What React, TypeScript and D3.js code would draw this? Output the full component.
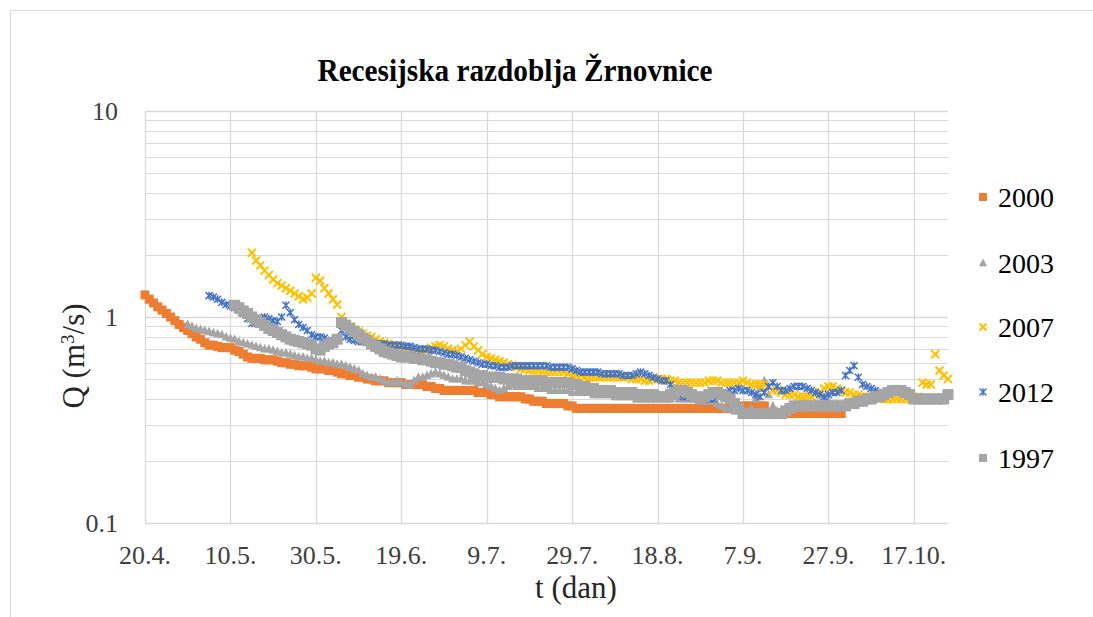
import React from 'react';
import * as d3 from 'd3';

const W = 1093;
const H = 617;

const titleText = 'Recesijska razdoblja Žrnovnice';
const xAxisTitle = 't (dan)';
const tickDays = [0, 20, 40, 60, 80, 100, 120, 140, 160, 180];
const tickLabels = ['20.4.', '10.5.', '30.5.', '19.6.', '9.7.', '29.7.', '18.8.', '7.9.', '27.9.', '17.10.'];
const yTicks = [0.1, 1, 10];
const yTickLabels = ['0.1', '1', '10'];
const yMinor = [0.2, 0.3, 0.4, 0.5, 0.6, 0.7, 0.8, 0.9, 2, 3, 4, 5, 6, 7, 8, 9];
const seriesNames = ['2000', '2003', '2007', '2012', '1997'];

const start2000 = 0;
const q2000 = [
  1.28, 1.22, 1.17, 1.12, 1.08, 1.04, 1.0, 0.96, 0.92, 0.89,
  0.86, 0.83, 0.8, 0.78, 0.75, 0.73, 0.73, 0.72, 0.71, 0.71,
  0.71, 0.69, 0.68, 0.66, 0.64, 0.63, 0.63, 0.63, 0.62, 0.62,
  0.62, 0.61, 0.6, 0.6, 0.59, 0.59, 0.58, 0.58, 0.58, 0.57,
  0.56, 0.56, 0.56, 0.55, 0.55, 0.54, 0.53, 0.53, 0.52, 0.52,
  0.51, 0.51, 0.5, 0.5, 0.49, 0.49, 0.49, 0.48, 0.48, 0.48,
  0.48, 0.47, 0.47, 0.47, 0.47, 0.47, 0.46, 0.46, 0.45, 0.45,
  0.44, 0.44, 0.44, 0.44, 0.44, 0.44, 0.44, 0.44, 0.43, 0.43,
  0.43, 0.42, 0.42, 0.41, 0.41, 0.41, 0.41, 0.41, 0.41, 0.4,
  0.4, 0.39, 0.39, 0.39, 0.38, 0.38, 0.38, 0.38, 0.38, 0.37,
  0.37, 0.36, 0.36, 0.36, 0.36, 0.36, 0.36, 0.36, 0.36, 0.36,
  0.36, 0.36, 0.36, 0.36, 0.36, 0.36, 0.36, 0.36, 0.36, 0.36,
  0.36, 0.36, 0.36, 0.36, 0.36, 0.36, 0.36, 0.36, 0.36, 0.36,
  0.36, 0.36, 0.36, 0.36, 0.36, 0.36, 0.36, 0.36, 0.36, 0.36,
  0.37, 0.37, 0.37, 0.37, 0.37, 0.37, 0.34, 0.34, 0.34, 0.34,
  0.34, 0.34, 0.34, 0.34, 0.34, 0.34, 0.34, 0.34, 0.34, 0.34,
  0.34, 0.34, 0.34, 0.34,
];

const start2003 = 10;
const q2003 = [
  0.92, 0.9, 0.88, 0.87, 0.86, 0.85, 0.84, 0.83, 0.82, 0.8,
  0.79, 0.78, 0.76, 0.75, 0.74, 0.73, 0.72, 0.71, 0.7, 0.7,
  0.69, 0.68, 0.67, 0.67, 0.66, 0.65, 0.64, 0.64, 0.63, 0.63,
  0.62, 0.61, 0.61, 0.6, 0.6, 0.59, 0.59, 0.58, 0.57, 0.56,
  0.55, 0.53, 0.52, 0.51, 0.51, 0.5, 0.49, 0.48, 0.48, 0.49,
  0.48, 0.47, 0.47, 0.49, 0.51, 0.51, 0.52, 0.53, 0.54, 0.53,
  0.52, 0.51, 0.5, 0.5, 0.5, 0.49, 0.49, 0.49, 0.48, 0.48,
  0.47, 0.46, 0.45, 0.44, 0.45, 0.46, 0.47, 0.46, 0.46, 0.46,
  0.46, 0.46, 0.45, 0.45, 0.45, 0.44, 0.44, 0.44, 0.44, 0.44,
  0.43, 0.43, 0.43, 0.43, 0.43, 0.42, 0.42, 0.42, 0.42, 0.42,
  0.41, 0.41, 0.41, 0.41, 0.41, 0.4, 0.4, 0.4, 0.4, 0.4,
  0.4, 0.41, 0.4, 0.4, 0.41, 0.4, 0.4, 0.4, 0.4, 0.4,
  0.4, 0.39, 0.39, 0.39, 0.38, 0.37, 0.36, 0.36, 0.35, 0.35,
  0.34, 0.34, 0.36, 0.4, 0.45, 0.49, 0.42, 0.37, 0.35, 0.35,
  0.36, 0.36, 0.36, 0.37, 0.37, 0.37, 0.37, 0.38, 0.38, 0.39,
  0.39,
];

const start2007 = 25;
const q2007 = [
  2.05, 1.88, 1.78, 1.68, 1.6,
  1.52, 1.46, 1.42, 1.38, 1.34, 1.3, 1.26, 1.22, 1.24, 1.3,
  1.55, 1.5, 1.38, 1.3, 1.22, 1.15, 1.0, 0.93, 0.9, 0.87,
  0.85, 0.83, 0.81, 0.8, 0.78, 0.76, 0.75, 0.74, 0.73, 0.72,
  0.71, 0.7, 0.69, 0.68, 0.67, 0.68, 0.69, 0.71, 0.72, 0.73,
  0.72, 0.7, 0.69, 0.68, 0.7, 0.73, 0.76, 0.72, 0.69, 0.66,
  0.64, 0.63, 0.62, 0.61, 0.6, 0.59, 0.58, 0.57, 0.56, 0.56,
  0.55, 0.55, 0.55, 0.54, 0.54, 0.54, 0.54, 0.54, 0.54, 0.53,
  0.52, 0.52, 0.52, 0.51, 0.51, 0.51, 0.51, 0.51, 0.51, 0.51,
  0.51, 0.51, 0.51, 0.51, 0.5, 0.5, 0.5, 0.49, 0.49, 0.5,
  0.5, 0.5, 0.5, 0.49, 0.49, 0.48, 0.48, 0.48, 0.48, 0.48,
  0.48, 0.48, 0.49, 0.49, 0.49, 0.48, 0.48, 0.48, 0.48, 0.48,
  0.49, 0.48, 0.47, 0.47, 0.47, 0.47, 0.46, 0.44, 0.44, 0.43,
  0.42, 0.42, 0.42, 0.41, 0.41, 0.41, 0.41, 0.42, 0.43, 0.45,
  0.46, 0.46, 0.45, 0.44, 0.43, 0.43, 0.42, 0.42, 0.41, 0.41,
  0.41, 0.41, 0.4, 0.4, 0.4, 0.4, 0.4, 0.4, 0.4, 0.4,
  0.41, 0.41, 0.48, 0.47, 0.47, 0.66, 0.55, 0.52, 0.5,
];

const start2012 = 15;
const q2012 = [
  1.27, 1.25, 1.22, 1.18, 1.15,
  1.13, 1.11, 1.08, 1.04, 0.98, 0.93, 0.95, 0.98, 1.0, 0.98,
  0.96, 0.95, 1.0, 1.14, 1.05, 0.97, 0.92, 0.89, 0.86, 0.82,
  0.8, 0.8, 0.79, 0.77, 0.76, 0.78, 0.86, 0.8, 0.78, 0.77,
  0.76, 0.76, 0.75, 0.75, 0.74, 0.74, 0.74, 0.73, 0.73, 0.73,
  0.73, 0.72, 0.72, 0.71, 0.7, 0.7, 0.7, 0.69, 0.69, 0.68,
  0.67, 0.66, 0.66, 0.65, 0.64, 0.63, 0.62, 0.61, 0.6, 0.59,
  0.59, 0.58, 0.58, 0.57, 0.57, 0.57, 0.58, 0.58, 0.58, 0.58,
  0.58, 0.58, 0.58, 0.58, 0.58, 0.57, 0.57, 0.57, 0.57, 0.57,
  0.56, 0.55, 0.54, 0.54, 0.54, 0.54, 0.54, 0.53, 0.53, 0.53,
  0.53, 0.53, 0.52, 0.52, 0.52, 0.53, 0.54, 0.53, 0.52, 0.51,
  0.5, 0.49, 0.49, 0.47, 0.45, 0.42, 0.41, 0.41, 0.41, 0.41,
  0.4, 0.4, 0.4, 0.4, 0.41, 0.42, 0.43, 0.44, 0.44, 0.45,
  0.44, 0.44, 0.43, 0.42, 0.41, 0.43, 0.46, 0.48, 0.46, 0.44,
  0.44, 0.45, 0.46, 0.46, 0.46, 0.45, 0.44, 0.43, 0.42, 0.41,
  0.42, 0.43, 0.43, 0.44, 0.52, 0.55, 0.58, 0.51, 0.47, 0.46,
  0.45, 0.44, 0.43, 0.43, 0.43,
];

const start1997 = 21;
const q1997 = [
  1.14, 1.11, 1.07, 1.04, 1.0, 0.97, 0.94, 0.91, 0.88,
  0.86, 0.84, 0.82, 0.8, 0.78, 0.77, 0.76, 0.75, 0.74, 0.73,
  0.7, 0.69, 0.72, 0.74, 0.75, 0.78, 0.94, 0.91, 0.88, 0.85,
  0.82, 0.79, 0.77, 0.74, 0.72, 0.7, 0.68, 0.67, 0.66, 0.65,
  0.64, 0.64, 0.64, 0.63, 0.63, 0.62, 0.62, 0.61, 0.6, 0.6,
  0.59, 0.59, 0.58, 0.57, 0.57, 0.55, 0.54, 0.53, 0.52, 0.52,
  0.51, 0.51, 0.51, 0.51, 0.5, 0.5, 0.5, 0.5, 0.49, 0.49,
  0.49, 0.49, 0.49, 0.49, 0.48, 0.48, 0.48, 0.48, 0.48, 0.48,
  0.47, 0.47, 0.46, 0.46, 0.45, 0.45, 0.44, 0.44, 0.44, 0.44,
  0.43, 0.43, 0.43, 0.43, 0.43, 0.42, 0.42, 0.42, 0.42, 0.42,
  0.41, 0.41, 0.41, 0.42, 0.43, 0.44, 0.44, 0.43, 0.42, 0.41,
  0.4, 0.41, 0.42, 0.43, 0.43, 0.42, 0.41, 0.4, 0.38, 0.36,
  0.34, 0.34, 0.34, 0.34, 0.34, 0.34, 0.34, 0.34, 0.34, 0.34,
  0.35, 0.36, 0.37, 0.37, 0.37, 0.37, 0.37, 0.37, 0.37, 0.37,
  0.37, 0.37, 0.37, 0.37, 0.37, 0.38, 0.38, 0.39, 0.39, 0.4,
  0.4, 0.41, 0.41, 0.42, 0.43, 0.44, 0.44, 0.44, 0.43, 0.42,
  0.4, 0.4, 0.4, 0.4, 0.4, 0.4, 0.4, 0.4, 0.42,
];

const ORANGE = '#ED7D31';
const GRAY = '#A5A5A5';
const GOLD = '#FFC000';
const BLUE = '#4472C4';
const GRID = '#D9D9D9';
const FONT = "'Liberation Serif', 'Times New Roman', serif";

const x = d3.scaleLinear().domain([0, 188]).range([145, 948]);
const y = d3.scaleLog().domain([0.1, 10]).range([523, 111]);

type Kind = 'square' | 'triangle' | 'x' | 'star' | 'bigsquare';

function Marker({ kind, cx, cy, s }: { kind: Kind; cx: number; cy: number; s: number }) {
  if (kind === 'square' || kind === 'bigsquare') {
    const fill = kind === 'square' ? ORANGE : GRAY;
    return <rect x={cx - s / 2} y={cy - s / 2} width={s} height={s} fill={fill} />;
  }
  if (kind === 'triangle') {
    const p = `M${cx},${cy - s * 0.55}L${cx + s / 2},${cy + s * 0.4}L${cx - s / 2},${cy + s * 0.4}Z`;
    return <path d={p} fill={GRAY} />;
  }
  const a = s / 2;
  if (kind === 'x') {
    const p = `M${cx - a},${cy - a}L${cx + a},${cy + a}M${cx - a},${cy + a}L${cx + a},${cy - a}`;
    return <path d={p} stroke={GOLD} strokeWidth={2} fill="none" />;
  }
  const p = `M${cx - a},${cy - a}L${cx + a},${cy + a}M${cx - a},${cy + a}L${cx + a},${cy - a}M${cx},${cy - a * 1.1}L${cx},${cy + a * 1.1}`;
  return <path d={p} stroke={BLUE} strokeWidth={1.5} fill="none" />;
}

const seriesDefs: { name: string; start: number; values: number[]; kind: Kind; size: number; legendSize: number }[] = [
  { name: seriesNames[0], start: start2000, values: q2000, kind: 'square', size: 9, legendSize: 8 },
  { name: seriesNames[1], start: start2003, values: q2003, kind: 'triangle', size: 9, legendSize: 8 },
  { name: seriesNames[2], start: start2007, values: q2007, kind: 'x', size: 8, legendSize: 7 },
  { name: seriesNames[3], start: start2012, values: q2012, kind: 'star', size: 7, legendSize: 7 },
  { name: seriesNames[4], start: start1997, values: q1997, kind: 'bigsquare', size: 11, legendSize: 8 },
];

const legendY = [197, 263, 327, 392, 458];

export default function App() {
  const [x0, x1] = x.range();
  const [yb, yt] = y.range();
  return (
    <svg
      width={W}
      height={H}
      style={{ position: 'absolute', left: 0, top: 0, display: 'block', background: '#fff', fontFamily: FONT }}
    >
      <rect x={0} y={0} width={W} height={H} fill="#fff" />
      <rect x={10.5} y={10.5} width={1200} height={800} fill="none" stroke={GRID} strokeWidth={1} />

      {yMinor.map((v) => (
        <line key={'m' + v} x1={x0} x2={x1} y1={Math.round(y(v)) + 0.5} y2={Math.round(y(v)) + 0.5} stroke={GRID} strokeWidth={1} />
      ))}
      {yTicks.map((v) => (
        <line key={'M' + v} x1={x0} x2={x1} y1={Math.round(y(v)) + 0.5} y2={Math.round(y(v)) + 0.5} stroke={GRID} strokeWidth={1.3} />
      ))}
      {tickDays.map((d) => (
        <line key={'v' + d} x1={Math.round(x(d)) + 0.5} x2={Math.round(x(d)) + 0.5} y1={yt} y2={yb} stroke={GRID} strokeWidth={1.3} />
      ))}

      <text x={515} y={81} textAnchor="middle" fontSize={31} fontWeight="bold" fill="#000" fontFamily={FONT} textLength={395} lengthAdjust="spacingAndGlyphs">
        {titleText}
      </text>

      {yTicks.map((v, i) => (
        <text key={'yt' + v} x={118} y={y(v) + 9} textAnchor="end" fontSize={26} fill="#404040" fontFamily={FONT}>
          {yTickLabels[i]}
        </text>
      ))}

      {tickDays.map((d, i) => (
        <text key={'xt' + d} x={x(d)} y={564} textAnchor="middle" fontSize={26} fill="#404040" fontFamily={FONT}>
          {tickLabels[i]}
        </text>
      ))}

      <text x={576} y={598} textAnchor="middle" fontSize={31} fill="#262626" fontFamily={FONT}>
        {xAxisTitle}
      </text>
      <text transform="translate(84,356) rotate(-90)" textAnchor="middle" fontSize={31} fill="#262626" fontFamily={FONT}>
        Q (m<tspan dy={-10} fontSize={19}>3</tspan><tspan dy={10}>/s)</tspan>
      </text>

      {seriesDefs.map((s) => (
        <g key={s.name}>
          {s.values.map((v, i) => (
            <Marker key={i} kind={s.kind} cx={x(s.start + i)} cy={y(v)} s={s.size} />
          ))}
        </g>
      ))}

      {seriesDefs.map((s, i) => (
        <g key={'lg' + s.name}>
          <Marker kind={s.kind} cx={983} cy={legendY[i]} s={s.legendSize} />
          <text x={998} y={legendY[i] + 10} fontSize={28} fill="#000" fontFamily={FONT}>
            {s.name}
          </text>
        </g>
      ))}
    </svg>
  );
}
